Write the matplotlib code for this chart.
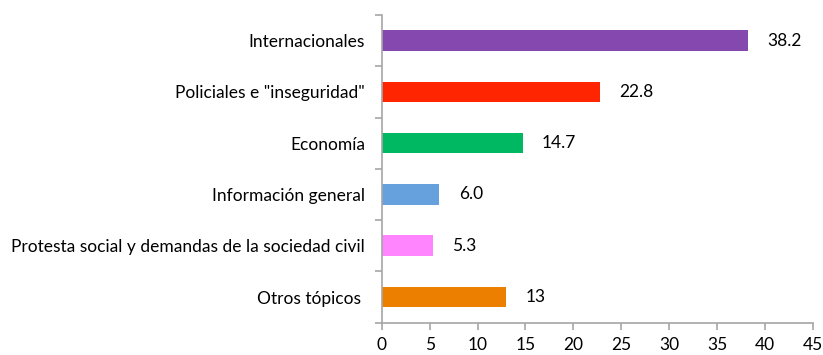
import matplotlib
matplotlib.use("Agg")
import matplotlib.pyplot as plt
from matplotlib.ticker import MultipleLocator, FixedLocator

plt.rcParams['font.family'] = ['Lato', 'DejaVu Sans']

categories = [
    "Internacionales",
    'Policiales e "inseguridad"',
    "Economía",
    "Información general",
    "Protesta social y demandas de la sociedad civil",
    "Otros tópicos ",
]
values = [38.2, 22.8, 14.7, 6.0, 5.3, 13]
value_labels = ["38.2", "22.8", "14.7", "6.0", "5.3", "13"]
colors = ["#8548AE", "#FF2500", "#00B862", "#66A1DE", "#FF85FF", "#EC7F00"]

fs = 12.5

fig = plt.figure(figsize=(8.23, 3.55), dpi=100)
ax = fig.add_axes([0.464, 0.091, 0.5235, 0.867])

y = list(range(len(categories)))
ax.barh(y, values, height=0.4, color=colors)
ax.set_ylim(len(categories) - 0.5, -0.5)
ax.set_xlim(0, 45)

for yi, v, lab in zip(y, values, value_labels):
    ax.annotate(lab, xy=(v, yi), xytext=(14, 0), textcoords="offset points",
                ha="left", va="center", fontsize=fs, color="#000000")

axis_color = "#A6A6A6"
for side in ["top", "right"]:
    ax.spines[side].set_visible(False)
for side in ["left", "bottom"]:
    ax.spines[side].set_color(axis_color)
    ax.spines[side].set_linewidth(1.2)

ax.xaxis.set_major_locator(MultipleLocator(5))
ax.set_yticks(y)
ax.set_yticklabels(categories)
ax.tick_params(axis="y", which="major", length=0, pad=12, labelsize=fs)
ax.yaxis.set_minor_locator(FixedLocator([i - 0.5 for i in range(len(categories) + 1)]))
ax.tick_params(axis="y", which="minor", length=5, width=1.2, color=axis_color, direction="out")
ax.tick_params(axis="x", which="major", length=5, width=1.2, color=axis_color,
               direction="out", labelsize=fs, pad=5)

fig.savefig("out.png", dpi=100)
